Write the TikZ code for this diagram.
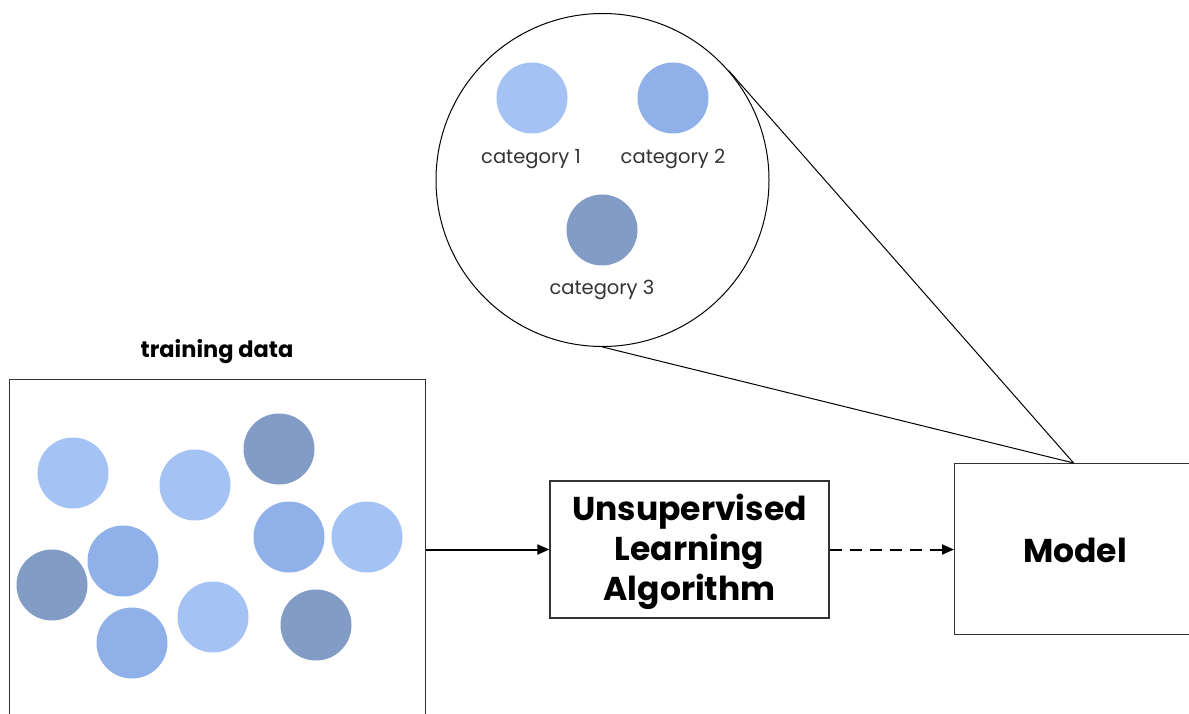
\documentclass[tikz,border=0pt]{standalone}
\usepackage{fontspec}
\setmainfont{Poppins}
\usetikzlibrary{arrows.meta}
\definecolor{cLight}{HTML}{A4C2F4}
\definecolor{cMid}{HTML}{8FB0E8}
\definecolor{cDark}{HTML}{829CC6}
\definecolor{lineGray}{HTML}{333333}
\definecolor{textGray}{HTML}{333333}
\tikzset{
  boxstyle/.style={draw=lineGray, line width=1.2pt, rectangle, inner sep=0pt},
  dot/.style={circle, minimum size=71pt, inner sep=0pt, draw=none},
  light/.style={dot, fill=cLight},
  mid/.style={dot, fill=cMid},
  dark/.style={dot, fill=cDark},
  catlabel/.style={font=\fontsize{19.5}{22}\selectfont, text=textGray},
  bigtext/.style={font=\fontsize{33}{40}\selectfont\bfseries, align=center},
  conn/.style={draw=black, line width=2pt, -{Triangle[length=12pt,width=10pt]}},
  thin/.style={draw=black, line width=1pt}
}
\begin{document}
\begin{tikzpicture}[x=1pt,y=-1pt]
\useasboundingbox (0,0) rectangle (1189,714);
\clip (0,0) rectangle (1189,714);
\fill[white] (0,0) rectangle (1189,714);

% training data box
\node[boxstyle, anchor=north west, minimum width=416pt, minimum height=360pt] (train) at (9,379) {};
\node[font=\fontsize{22.5}{26}\selectfont\bfseries] (trainlbl) at (217,352) {training data};

\node[light] (d1) at (73,473) {};
\node[light] (d2) at (195,485) {};
\node[dark]  (d3) at (279,449) {};
\node[mid]   (d4) at (289,537) {};
\node[light] (d5) at (367,537) {};
\node[mid]   (d6) at (123,561) {};
\node[dark]  (d7) at (52,585) {};
\node[mid]   (d8) at (132,643) {};
\node[light] (d9) at (213,617) {};
\node[dark]  (d10) at (316,625) {};

% algorithm box
\node[boxstyle, minimum width=279pt, minimum height=137pt] (algo) at (689.5,549.5) {};
\node[bigtext] (algotxt) at (689.5,552) {Unsupervised\\Learning\\Algorithm};

% model box
\node[boxstyle, anchor=north west, minimum width=238pt, minimum height=171pt] (model) at (954,463) {};
\node[bigtext] (modeltxt) at (1075,550) {Model};

% zoom circle
\node[circle, draw=black, line width=1pt, minimum size=333pt, inner sep=0pt] (zoom) at (602.5,180) {};
\node[light] (c1) at (532,98) {};
\node[mid]   (c2) at (673,98) {};
\node[dark]  (c3) at (602,230) {};
\node[catlabel] (l1) at (531,159) {category 1};
\node[catlabel] (l2) at (673,159) {category 2};
\node[catlabel] (l3) at (602,290) {category 3};

% connectors
\draw[conn] (algo.west -| train.east) -- (algo.west);
\draw[conn, dash pattern=on 12pt off 8pt] (algo.east) -- (model.west |- algo.east);
\draw[thin] (zoom.41.3) -- (model.north);
\draw[thin] (zoom.south) -- (model.north);
\end{tikzpicture}
\end{document}
